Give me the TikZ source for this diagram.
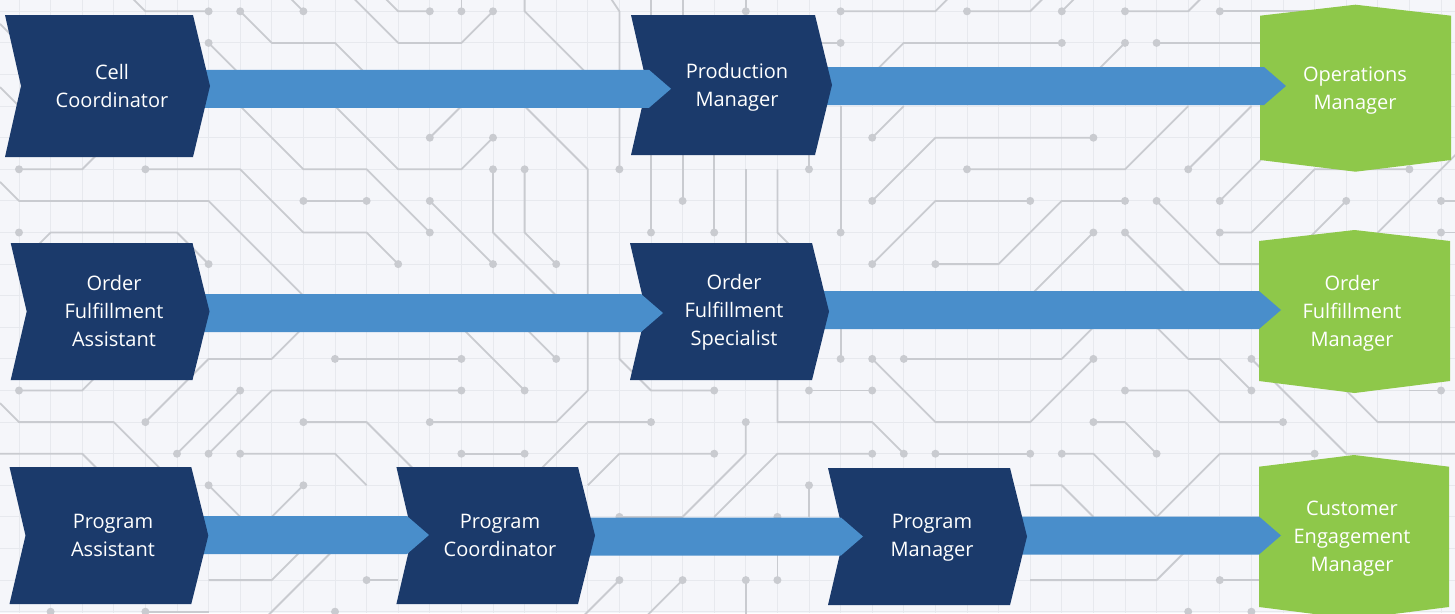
\documentclass[tikz,border=0pt]{standalone}
\usepackage{fontspec}
\setmainfont{Open Sans}
\usetikzlibrary{calc}
\definecolor{bgc}{RGB}{245,246,250}
\definecolor{gridc}{RGB}{231,233,238}
\definecolor{tracec}{RGB}{201,203,208}
\definecolor{navyc}{RGB}{27,58,107}
\definecolor{arrowc}{RGB}{73,142,203}
\definecolor{greenc}{RGB}{142,200,74}
\tikzset{
  trace/.style={draw=tracec, line width=1.8pt, line join=round},
  gridline/.style={draw=gridc, line width=1pt},
  lbl/.style={text=white, align=center, inner sep=0pt, font=\fontsize{20}{28}\selectfont},
}
\newcommand\tr[1]{\draw[trace] plot coordinates {#1};}
\newcommand\dt[1]{\foreach \da/\db in {#1} {\fill[tracec] (\da,\db) circle[radius=4pt];}}
\newcommand\navybox[8]{% name, x0, x1, ytop, ybot, tx, ty, text
  \pgfmathsetmacro\navyM{(#4+#5)/2}
  \pgfmathsetmacro\navyR{#3-17}
  \pgfmathsetmacro\navyN{#2+16}
  \fill[navyc] (#2,#4) -- (\navyR,#4) -- (#3,\navyM) -- (\navyR,#5) -- (#2,#5) -- (\navyN,\navyM) -- cycle;
  \node[lbl] (#1) at (#6,#7) {#8};
}
\newcommand\greenbox[6]{% x0, x1, ycorner top, ypeak, ycorner bottom, ydip
  \pgfmathsetmacro\grnC{(#1+#2)/2}
  \fill[greenc] (#1,#3) -- (\grnC,#4) -- (#2,#3) -- (#2,#5) -- (\grnC,#6) -- (#1,#5) -- cycle;
}
\newcommand\blockarrow[2]{%
  \fill[arrowc] let \p1=(#1), \p2=(#2) in
    (\x1,\y2+19pt) -- (\x2-22pt,\y2+19pt) -- (\x2,\y2) -- (\x2-22pt,\y2-19pt) -- (\x1,\y2-19pt) -- cycle;
}
\begin{document}
\begin{tikzpicture}[x=1pt,y=-1pt]
\useasboundingbox (0,0) rectangle (1455,613);
% background
\fill[bgc] (0,0) rectangle (1455,613);
\foreach \i in {-1,...,46} {\draw[gridline] ({19+31.6*\i},0) -- ({19+31.6*\i},613);}
\foreach \j in {-1,...,19} {\draw[gridline] (0,{11.3+31.6*\j}) -- (1455,{11.3+31.6*\j});}
\begin{scope}
\clip (0,0) rectangle (1455,613);
\begin{scope}[shift={(19,11.3)}, x=31.6pt, y=-31.6pt]
% upper left
\tr{(3,-1) (4,0) (6,0)} \dt{6/0}
\tr{(7,0) (8,1) (10,1) (11,2) (11.5,2.5)} \dt{7/0}
\tr{(9,0) (8.4,-0.6)} \dt{9/0}
\tr{(11.4,-0.6) (12,0) (13,0)} \dt{13/0}
\tr{(10.4,-0.6) (12,1) (14,1) (15,0)} \dt{15/0}
\tr{(14,0) (14,-0.6)} \dt{14/0}
\tr{(16,-0.6) (16,0) (18,2) (18,2.5)}
\tr{(18.6,-0.6) (19,0) (19,5)} \dt{19/5}
\tr{(20,-0.6) (20,7)} \dt{20/7}
\tr{(21,-0.6) (21,6)} \dt{21/6}
\tr{(22,2) (22,7)} \dt{22/7}
\tr{(6,1) (7,2) (7,3) (9,5) (11,5) (13,7)} \dt{6/1,13/7}
\tr{(0,5) (2,5) (3,4)} \dt{0/5}
\tr{(4,5) (7,5) (9,7) (11,7) (12,8)} \dt{4/5,12/8}
\tr{(10,3) (12,5) (14,5) (15,4)} \dt{15/4}
\tr{(13,4) (14,3)} \dt{13/4}
\tr{(13,6) (15,8)} \dt{13/6,15/8}
\tr{(15,5) (15,7) (17,9) (17.6,9.6)} \dt{15/5}
\tr{(16,5) (16,7) (17,8)} \dt{16/5,17/8}
\tr{(16,3) (18,5) (18,12) (17,13) (13,13)} \dt{13/13}
\tr{(-0.6,5.4) (0,6) (6,6) (9,9) (9.6,9.6)}
\tr{(9,6) (11,6)} \dt{9/6,11/6}
\dt{0/7}
\tr{(0.4,7.6) (1,7) (5,7) (6,8)} \dt{6/8}
\tr{(-0.6,0.4) (0.5,1.5)}
\tr{(-0.6,2.4) (0,3)}
% upper right
\tr{(23,0) (23,-0.6)} \dt{23/0}
\tr{(26,0) (29,0) (29.6,-0.6)} \dt{26/0}
\tr{(30,0) (32,0) (32.6,-0.6)} \dt{30/0}
\tr{(33,0) (33.6,-0.6)} \dt{33/0}
\tr{(35,0) (37,0) (37.6,-0.6)} \dt{35/0}
\tr{(38,0) (41,0)} \dt{38/0}
\tr{(26,1) (24.5,1)} \dt{26/1}
\tr{(26,3) (26,7)} \dt{26/7}
\tr{(27,2) (28,1) (33,1)} \dt{33/1}
\tr{(34,2) (35,1)} \dt{35/1}
\tr{(36,1) (41,1)} \dt{36/1}
\tr{(27,4) (28,3)} \dt{27/4}
\tr{(27,6) (29,4) (34,4)} \dt{27/6,34/4}
\tr{(30,5) (35,5) (37,3)} \dt{30/5}
\tr{(37,5) (39,3)} \dt{37/5}
\tr{(25,5) (25,4)} \dt{25/5}
\tr{(27,8) (29,6) (32,6)} \dt{27/8,32/6}
\tr{(29,8) (31,8) (33,6) (35,6)} \dt{29/8,35/6}
\tr{(36,6) (38,8) (41,8)} \dt{36/6}
\tr{(34,7) (32,9) (31.4,9.6)} \dt{34/7}
\tr{(35,7) (37,9) (37.6,9.6)} \dt{35/7}
\tr{(38,6) (40,4)} \dt{38/6}
\tr{(38,7) (39,7) (41,5) (44,5)} \dt{38/7,44/5}
\tr{(42,6) (40.5,7.5)} \dt{42/6}
\tr{(46,4) (43,7) (42,8)}
\tr{(45,6) (46,6)} \dt{45/6}
\tr{(45,7) (46,7)} \dt{45/7}
\tr{(23,5) (23,8)}
\tr{(24,5) (24,7) (25,8)}
% lower left
\tr{(0,12) (2,12) (3,11)} \dt{0/12}
\tr{(-0.6,12.4) (0,13) (3,13) (4.5,14.5)}
\tr{(4,13) (6,11) (8,11) (9,10)} \dt{4/13}
\tr{(5,14) (7,12)} \dt{5/14,7/12}
\tr{(6,14) (8,12) (14,12)} \dt{6/14,14/12}
\tr{(10,11) (14,11)} \dt{10/11,14/11}
\tr{(14,10) (16,12)} \dt{16/12}
\tr{(16,10) (17,11)} \dt{17/11}
\tr{(19,10) (19,11) (20,12) (22,12)} \dt{22/12}
\tr{(9,13) (11,13) (12.5,14.5)} \dt{9/13}
\tr{(7,14) (10,14) (11,15)} \dt{7/14}
\tr{(14,14) (16,14)} \dt{14/14,16/14}
\tr{(6,15) (7,16)} \dt{6/15}
\tr{(9,15) (8,16)} \dt{9/15}
\tr{(16.5,14.5) (18,13) (20,13)} \dt{20/13}
\tr{(18,15) (19,14) (22,14)} \dt{22/14}
\tr{(23,13) (23,14) (21,16) (19,16)} \dt{23/13,19/16}
\tr{(22,16) (24,14) (27,14)} \dt{27/14}
\tr{(-0.6,14) (2,14) (2.5,14.5)}
\tr{(6,18) (8,18) (9,17)}
\tr{(10,17) (8,19) (7.4,19.6)}
\tr{(11,18) (12,18)} \dt{11/18}
\tr{(19,18) (17.4,19.6)} \dt{19/18}
\tr{(21,18) (19.4,19.6)} \dt{21/18}
\dt{1/19,10/19}
\tr{(4,19) (6,19)} \dt{4/19}
% lower right
\tr{(26,10) (26,11)} \dt{26/11}
\tr{(27,11) (29,13) (32,13) (34,11)} \dt{27/11,34/11}
\tr{(28,11) (33,11) (34,10)} \dt{28/11}
\tr{(25,12) (27,12)} \dt{25/12,27/12}
\tr{(24,10) (24,13) (27,13) (28,14)} \dt{28/14}
\tr{(29,14) (32,14)} \dt{29/14,32/14}
\tr{(33,14) (34,14) (36,16) (38,14) (41,14)} \dt{33/14,41/14}
\tr{(34,13) (35,13) (36,14)} \dt{34/13,36/14}
\tr{(35,12) (37,12) (38,13) (40,13)} \dt{35/12,40/13}
\tr{(36,10) (37,11) (38,11) (39,12)} \dt{39/12}
\tr{(39,11) (42,14) (46,14)} \dt{39/11}
\tr{(42,12) (43,13) (46,13)}
\tr{(44,12) (45,12)} \dt{45/12}
\tr{(25,15) (25,16)} \dt{25/15}
\tr{(24,16) (24,18)} \dt{24/16,24/18}
\tr{(23,18) (23,19.6)} \dt{23/18}
\tr{(32,15) (33,15) (34,16)}
\tr{(32,18) (36,18) (37,17)}
\tr{(38,18) (41,18)} \dt{38/18}
\dt{37/19,39/19}
\end{scope}
\end{scope}
% connector end points
\coordinate (cell-out) at (200,88.8);
\coordinate (prod-in) at (671,88.8);
\coordinate (prod-out) at (820,86);
\coordinate (ops-in) at (1286,86);
\coordinate (ofa-out) at (200,313);
\coordinate (ofs-in) at (663,313);
\coordinate (ofs-out) at (818,310);
\coordinate (ofm-in) at (1281,310);
\coordinate (pa-out) at (198,535);
\coordinate (pc-in) at (429,535);
\coordinate (pc-out) at (585,536.5);
\coordinate (pm-in) at (863,536.5);
\coordinate (pm-out) at (1015,535.5);
\coordinate (cem-in) at (1281,535.5);
% row 1
\greenbox{1260}{1451}{15.7}{4.7}{160}{171.7}
\node[lbl] (ops) at (1355,90.5) {Operations\\Manager};
\blockarrow{prod-out}{ops-in}
\navybox{prod}{631}{832}{15}{155}{737}{87.5}{Production\\Manager}
\blockarrow{cell-out}{prod-in}
\navybox{cell}{5}{210}{15}{157}{112}{85.5}{Cell\\Coordinator}
% row 2
\greenbox{1259}{1450}{241}{230}{381}{393}
\node[lbl] (ofm) at (1352,313.5) {Order\\Fulfillment\\Manager};
\blockarrow{ofs-out}{ofm-in}
\navybox{ofs}{630}{829}{243}{380}{734}{312.5}{Order\\Fulfillment\\Specialist}
\blockarrow{ofa-out}{ofs-in}
\navybox{ofa}{10.7}{209.5}{243}{380}{114}{310.5}{Order\\Fulfillment\\Assistant}
% row 3
\greenbox{1259}{1449}{466.7}{455}{607}{619}
\node[lbl] (cem) at (1352,538.5) {Customer\\Engagement\\Manager};
\blockarrow{pm-out}{cem-in}
\navybox{pm}{828}{1027}{468}{605}{932}{538}{Program\\Manager}
\blockarrow{pc-out}{pm-in}
\navybox{pc}{396.4}{595}{467}{604}{500}{535}{Program\\Coordinator}
\blockarrow{pa-out}{pc-in}
\navybox{pa}{9.5}{208.3}{467}{604}{113}{535}{Program\\Assistant}
\end{tikzpicture}
\end{document}
